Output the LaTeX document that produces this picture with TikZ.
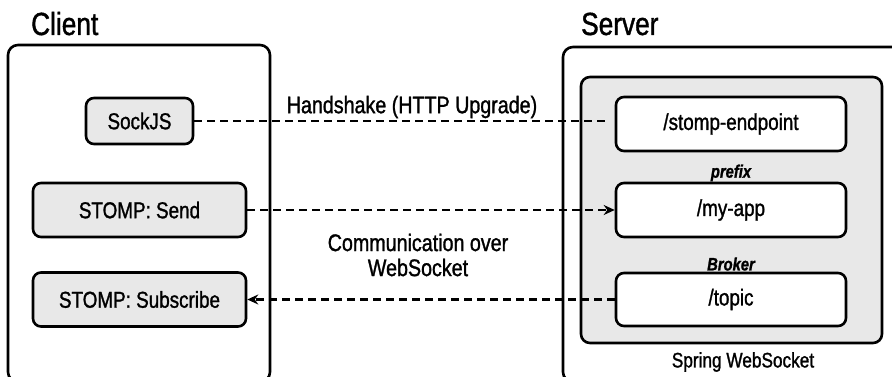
\documentclass[tikz,border=0pt]{standalone}
\usepackage{fontspec}
\setmainfont[FakeStretch=0.82,FakeBold=1.2]{Liberation Sans}
\usetikzlibrary{arrows.meta}
\definecolor{boxgrey}{HTML}{E8E8E8}
\tikzset{
  frame/.style={draw=black, line width=2.6pt, rounded corners=10pt},
  clientbox/.style={draw=black, line width=2.6pt, rounded corners=8pt, fill=boxgrey,
    minimum height=54pt, font=\fontsize{23}{26}\selectfont, inner sep=0pt},
  serverbox/.style={draw=black, line width=2.6pt, rounded corners=8pt, fill=white,
    minimum width=230pt, minimum height=54pt, font=\fontsize{23}{26}\selectfont, inner sep=0pt},
  title/.style={font=\fontsize{32}{36}\selectfont, anchor=base west, inner sep=0pt},
  lbl/.style={font=\fontsize{24}{25}\selectfont, align=center, inner sep=0pt},
  small/.style={font=\fontsize{18}{20}\selectfont\bfseries\itshape, inner sep=0pt},
  conn/.style={draw=black, line width=2.4pt, dash pattern=on 8pt off 5pt},
  tip/.style={-{Stealth[length=11pt,width=10pt]}}
}
\begin{document}
\begin{tikzpicture}[x=1pt,y=-1pt]
\clip (0,0) rectangle (892,377);
\fill[white] (0,0) rectangle (892,377);
% outer frames
\draw[frame] (8,45) rectangle (270,382);
\draw[frame] (563,47) rectangle (905,382);
\node[title] (clientt) at (31,35) {Client};
\node[title] (servert) at (581,35) {Server};
% inner spring box
\draw[draw=black, line width=2.6pt, rounded corners=9pt, fill=boxgrey] (581,77) rectangle (882,343);
\node[font=\fontsize{21}{24}\selectfont, inner sep=0pt] (spring) at (743,362) {Spring WebSocket};
% client nodes
\node[clientbox, minimum width=107pt, minimum height=46pt] (sock) at (139.5,121) {SockJS};
\node[clientbox, minimum width=213pt] (send) at (139.5,210) {STOMP: Send};
\node[clientbox, minimum width=213pt] (sub) at (139.5,299.5) {STOMP: Subscribe};
% server nodes
\node[serverbox] (ep) at (731,124) {/stomp-endpoint};
\node[serverbox] (app) at (731,210) {/my-app};
\node[serverbox, minimum height=53pt] (topic) at (731,299.5) {/topic};
\node[small] (prefix) at (731,173) {prefix};
\node[small] (broker) at (731,264) {Broker};
% labels
\node[lbl] (hs) at (412,107) {Handshake (HTTP Upgrade)};
\node[lbl] (comm) at (418,255) {Communication over\\WebSocket};
% connectors
\coordinate (hsend) at ([xshift=-6pt]ep.west |- sock.east);
\draw[conn] (sock.east) -- (hsend);
\draw[conn, tip] (send.east) -- (app.west);
\draw[conn, tip] (topic.west) -- (sub.east);
\end{tikzpicture}
\end{document}
